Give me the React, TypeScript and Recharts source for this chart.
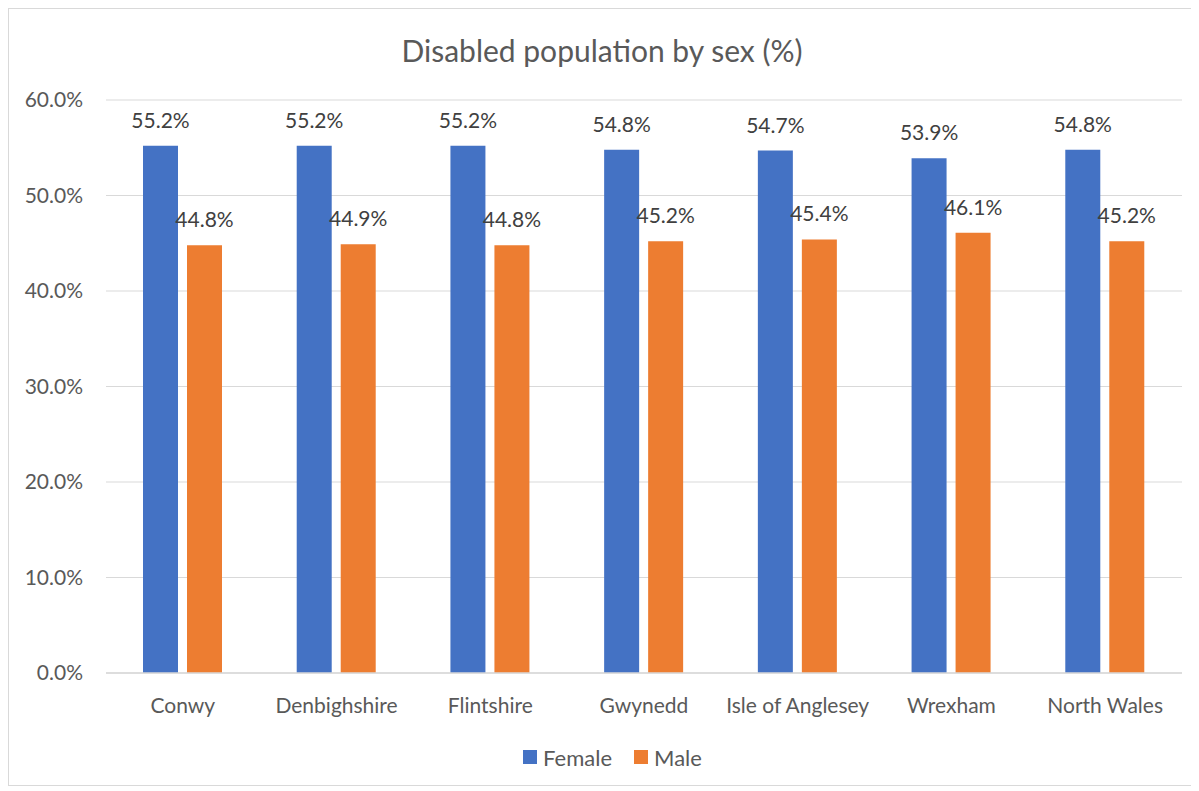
import React from "react";
import { BarChart, Bar, XAxis, YAxis, CartesianGrid, Legend, LabelList } from "recharts";

const categories = ["Conwy", "Denbighshire", "Flintshire", "Gwynedd", "Isle of Anglesey", "Wrexham", "North Wales"];
const femaleValues = [55.2, 55.2, 55.2, 54.8, 54.7, 53.9, 54.8];
const maleValues = [44.8, 44.9, 44.8, 45.2, 45.4, 46.1, 45.2];
const yTicks = [0, 10, 20, 30, 40, 50, 60];
const seriesNames = ["Female", "Male"];
const seriesColors = ["#4472C4", "#ED7D31"];

const data = categories.map((c, i) => ({ name: c, Female: femaleValues[i], Male: maleValues[i] }));

const FONT = "Lato, 'Open Sans', sans-serif";
const fmt = (v: any) => `${Number(v).toFixed(1)}%`;

const LegendContent = () => (
  <div style={{ display: "flex", justifyContent: "center", alignItems: "center", height: 24, paddingLeft: 34, fontFamily: FONT, fontSize: 22, color: "#595959" }}>
    {seriesNames.map((n, i) => (
      <div key={n} style={{ display: "flex", alignItems: "center", marginRight: i === 0 ? 22 : 0 }}>
        <span style={{ display: "inline-block", width: 14, height: 14, background: seriesColors[i], marginRight: 6 }} />
        <span>{n}</span>
      </div>
    ))}
  </div>
);

export default function App() {
  return (
    <div style={{ position: "relative", width: 1186, height: 776, border: "1px solid #d9d9d9", background: "#fff" }}>
      <div style={{ position: "absolute", left: 0, top: 23, width: "100%", textAlign: "center", fontFamily: FONT, fontSize: 30, color: "#595959", lineHeight: "36px" }}>
        Disabled population by sex (%)
      </div>
      <BarChart width={1186} height={776} data={data} margin={{ top: 91, right: 13, left: 0, bottom: 16 }} barSize={35} barGap={9}>
        <CartesianGrid vertical={false} stroke="#d9d9d9" strokeWidth={1} />
        <XAxis dataKey="name" height={72} tickLine={false} axisLine={{ stroke: "#d9d9d9", strokeWidth: 1.5 }} tickSize={0} tickMargin={25} tick={{ fill: "#595959", fontSize: 21, fontFamily: FONT }} interval={0} />
        <YAxis width={97} domain={[0, 60]} ticks={yTicks} tickFormatter={fmt} tickLine={false} axisLine={false} tickSize={0} tickMargin={23} tick={{ fill: "#595959", fontSize: 21, fontFamily: FONT }} />
        <Legend verticalAlign="bottom" height={24} content={<LegendContent />} />
        <Bar dataKey="Female" fill={seriesColors[0]} isAnimationActive={false}>
          <LabelList dataKey="Female" position="top" offset={18} formatter={fmt} style={{ fill: "#404040", fontSize: 21, fontFamily: FONT }} />
        </Bar>
        <Bar dataKey="Male" fill={seriesColors[1]} isAnimationActive={false}>
          <LabelList dataKey="Male" position="top" offset={18} formatter={fmt} style={{ fill: "#404040", fontSize: 21, fontFamily: FONT }} />
        </Bar>
      </BarChart>
    </div>
  );
}
